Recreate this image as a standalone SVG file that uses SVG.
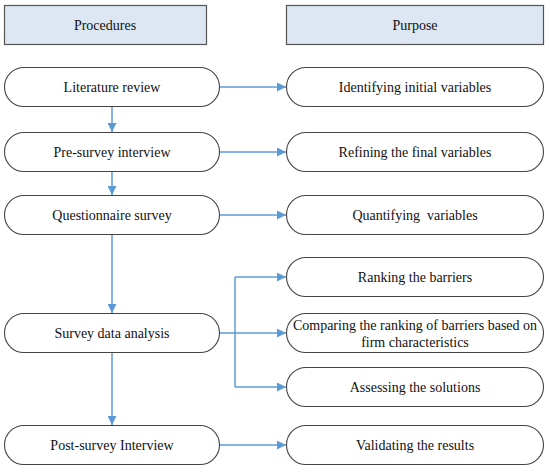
<svg xmlns="http://www.w3.org/2000/svg" width="550" height="472" viewBox="0 0 550 472">
<style>
.hdr{fill:#dce7f3;stroke:#555;stroke-width:1.2}
.box{fill:#fff;stroke:#444;stroke-width:1.1}
text{font-family:'Liberation Serif','Times New Roman','DejaVu Serif',serif;font-size:14px;fill:#111;text-anchor:middle}
.c{fill:none;stroke:#5b9bd5;stroke-width:1.5}
</style>
<defs>
<marker id="ah" viewBox="0 0 10 10" refX="10" refY="5" markerWidth="6" markerHeight="6" orient="auto" markerUnits="strokeWidth">
<path d="M0,0 L10,5 L0,10 z" fill="#5b9bd5"/>
</marker>
</defs>
<rect x="0" y="0" width="550" height="472" fill="#fff"/>
<g id="hdr-procedures"><rect class="hdr" x="4.5" y="5.5" width="202" height="39"/><text x="105" y="30">Procedures</text></g>
<g id="hdr-purpose"><rect class="hdr" x="286.5" y="5.5" width="257" height="39"/><text x="415" y="30">Purpose</text></g>

<g id="n-lit"><rect class="box" x="4.5" y="67.5" width="215" height="39" rx="19.5"/><text x="112" y="92">Literature review</text></g>
<g id="n-pre"><rect class="box" x="4.5" y="132.5" width="215" height="39" rx="19.5"/><text x="112" y="157">Pre-survey interview</text></g>
<g id="n-que"><rect class="box" x="4.5" y="195.5" width="215" height="39" rx="19.5"/><text x="112" y="220">Questionnaire survey</text></g>
<g id="n-sda"><rect class="box" x="4.5" y="313.5" width="215" height="39" rx="19.5"/><text x="112" y="338">Survey data analysis</text></g>
<g id="n-post"><rect class="box" x="4.5" y="425.5" width="215" height="39" rx="19.5"/><text x="112" y="450">Post-survey Interview</text></g>

<g id="p-ident"><rect class="box" x="286.5" y="67.5" width="257" height="39" rx="19.5"/><text x="415" y="92">Identifying initial variables</text></g>
<g id="p-refine"><rect class="box" x="286.5" y="132.5" width="257" height="39" rx="19.5"/><text x="415" y="157">Refining the final variables</text></g>
<g id="p-quant"><rect class="box" x="286.5" y="195.5" width="257" height="39" rx="19.5"/><text x="415" y="220" xml:space="preserve">Quantifying  variables</text></g>
<g id="p-rank"><rect class="box" x="286.5" y="257.5" width="257" height="39" rx="19.5"/><text x="415" y="282">Ranking the barriers</text></g>
<g id="p-comp"><rect class="box" x="286.5" y="313.5" width="257" height="39" rx="19.5"/><text x="415" y="330">Comparing the ranking of barriers based on</text><text x="415" y="347">firm characteristics</text></g>
<g id="p-assess"><rect class="box" x="286.5" y="367.5" width="257" height="39" rx="19.5"/><text x="415" y="392">Assessing the solutions</text></g>
<g id="p-valid"><rect class="box" x="286.5" y="425.5" width="257" height="39" rx="19.5"/><text x="415" y="450">Validating the results</text></g>

<g id="connectors">
<path class="c" d="M112,107 V132" marker-end="url(#ah)"/>
<path class="c" d="M112,172 V195" marker-end="url(#ah)"/>
<path class="c" d="M112,235 V313" marker-end="url(#ah)"/>
<path class="c" d="M112,353 V425" marker-end="url(#ah)"/>
<path class="c" d="M220,87 H286" marker-end="url(#ah)"/>
<path class="c" d="M220,152 H286" marker-end="url(#ah)"/>
<path class="c" d="M220,215 H286" marker-end="url(#ah)"/>
<path class="c" d="M220,333 H286" marker-end="url(#ah)"/>
<path class="c" d="M235,277 H286" marker-end="url(#ah)"/>
<path class="c" d="M235,387 H286" marker-end="url(#ah)"/>
<path class="c" d="M235,277 V387"/>
<path class="c" d="M220,445 H286" marker-end="url(#ah)"/>
</g>
</svg>
